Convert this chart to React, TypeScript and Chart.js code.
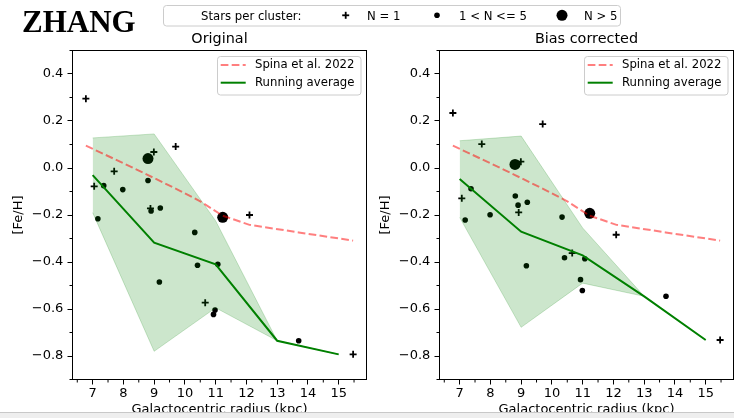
import React, { useEffect, useRef } from "react";
import { Chart, registerables } from "chart.js";

Chart.register(...registerables);

// Radial metallicity gradient of open clusters, two calibrations side by side.

const FONT = "DejaVu Sans";

// Running-average bins (kpc) and their mean / ±1σ envelope
const RADIUS_BINS = [7, 9, 11, 13, 15];
const ORIG_AVG = [-0.03, -0.318, -0.41, -0.735, -0.793];
const ORIG_UPPER = [0.128, 0.145, -0.225, -0.735, -0.793];
const ORIG_LOWER = [-0.19, -0.78, -0.595, -0.735, -0.793];
const CORR_AVG = [-0.047, -0.271, -0.372, -0.546, -0.732];
const CORR_UPPER = [0.116, 0.136, -0.255, -0.546, -0.732];
const CORR_LOWER = [-0.21, -0.678, -0.49, -0.546, -0.732];

// Spina et al. 2022 gradient evaluated at the cluster radii
const SPINA_R = [6.78, 7.89, 8.8, 9.84, 10.5, 11.23, 12.1, 13.7, 15.47];
const SPINA_FEH = [0.095, 0.027, -0.03, -0.097, -0.142, -0.203, -0.242, -0.274, -0.309];

// Original abundances
const ORIG_SINGLE_R = [6.78, 7.05, 7.7, 8.88, 8.99, 9.7, 10.66, 12.1, 15.47];
const ORIG_SINGLE_FEH = [0.295, -0.078, -0.014, -0.172, 0.068, 0.091, -0.573, -0.2, -0.793];
const ORIG_FEW_R = [7.17, 7.36, 7.98, 8.8, 8.9, 9.2, 9.17, 10.32, 10.41, 11.07, 10.98, 10.93, 13.7];
const ORIG_FEW_FEH = [-0.216, -0.075, -0.092, -0.053, -0.183, -0.17, -0.485, -0.274, -0.414, -0.41, -0.604, -0.623, -0.735];
const ORIG_MANY_R = [8.8, 11.23];
const ORIG_MANY_FEH = [0.04, -0.21];

// Bias-corrected abundances
const CORR_SINGLE_R = [6.78, 7.07, 7.72, 8.92, 8.99, 9.7, 10.66, 12.09, 15.47];
const CORR_SINGLE_FEH = [0.234, -0.129, 0.102, -0.189, 0.027, 0.187, -0.362, -0.284, -0.732];
const CORR_FEW_R = [7.18, 7.37, 7.99, 8.81, 8.9, 9.2, 9.17, 10.33, 10.41, 11.07, 10.93, 10.99, 13.71];
const CORR_FEW_FEH = [-0.221, -0.088, -0.199, -0.119, -0.158, -0.146, -0.416, -0.209, -0.382, -0.386, -0.475, -0.521, -0.546];
const CORR_MANY_R = [8.8, 11.23];
const CORR_MANY_FEH = [0.015, -0.193];

const X_TICKS = [7, 8, 9, 10, 11, 12, 13, 14, 15];
const X_MINOR = [6.5, 7.5, 8.5, 9.5, 10.5, 11.5, 12.5, 13.5, 14.5, 15.5];
const Y_TICKS = [-0.8, -0.6, -0.4, -0.2, 0, 0.2, 0.4];
const Y_MINOR = [-0.9, -0.7, -0.5, -0.3, -0.1, 0.1, 0.3, 0.5];

const SPINA_COLOR = "rgba(255,0,0,0.5)";
const AVG_COLOR = "#008000";
const SPINA_DASH = [7.7, 3.3];

const pts = (xs: number[], ys: number[]) => xs.map((x, i) => ({ x, y: ys[i] }));

type PanelProps = {
  title: string;
  left: number;
  single: [number[], number[]];
  few: [number[], number[]];
  many: [number[], number[]];
  avg: number[];
  upper: number[];
  lower: number[];
};

// Frame, minor ticks, panel title and in-axes legend
const decorPlugin = (title: string) => ({
  id: "decor",
  afterDatasetsDraw(chart: any) {
    const { ctx, chartArea: a, scales } = chart;
    ctx.save();
    // legend box
    const bx = 217.5, by = 56.5, bw = 143.5, bh = 38.5, r = 3;
    ctx.beginPath();
    ctx.moveTo(bx + r, by);
    ctx.lineTo(bx + bw - r, by);
    ctx.arcTo(bx + bw, by, bx + bw, by + r, r);
    ctx.lineTo(bx + bw, by + bh - r);
    ctx.arcTo(bx + bw, by + bh, bx + bw - r, by + bh, r);
    ctx.lineTo(bx + r, by + bh);
    ctx.arcTo(bx, by + bh, bx, by + bh - r, r);
    ctx.lineTo(bx, by + r);
    ctx.arcTo(bx, by, bx + r, by, r);
    ctx.closePath();
    ctx.fillStyle = "rgba(255,255,255,0.8)";
    ctx.fill();
    ctx.strokeStyle = "#cccccc";
    ctx.lineWidth = 1;
    ctx.stroke();

    ctx.lineWidth = 2;
    ctx.strokeStyle = SPINA_COLOR;
    ctx.setLineDash(SPINA_DASH);
    ctx.beginPath();
    ctx.moveTo(220.7, 65);
    ctx.lineTo(245.7, 65);
    ctx.stroke();
    ctx.setLineDash([]);
    ctx.strokeStyle = AVG_COLOR;
    ctx.beginPath();
    ctx.moveTo(220.7, 82.7);
    ctx.lineTo(245.7, 82.7);
    ctx.stroke();

    ctx.fillStyle = "#000";
    ctx.font = `11.7px "${FONT}"`;
    ctx.textAlign = "left";
    ctx.textBaseline = "middle";
    ctx.fillText("Spina et al. 2022", 255, 65);
    ctx.fillText("Running average", 255, 82.7);
    ctx.restore();
  },
  afterDraw(chart: any) {
    const { ctx, chartArea: a, scales } = chart;
    ctx.save();
    ctx.strokeStyle = "#000";
    ctx.lineWidth = 1;
    ctx.strokeRect(a.left, a.top, a.right - a.left, a.bottom - a.top);
    ctx.beginPath();
    for (const v of X_MINOR) {
      const p = scales.x.getPixelForValue(v);
      ctx.moveTo(p, a.bottom);
      ctx.lineTo(p, a.bottom + 3);
    }
    for (const v of Y_MINOR) {
      const p = scales.y.getPixelForValue(v);
      ctx.moveTo(a.left, p);
      ctx.lineTo(a.left - 3, p);
    }
    ctx.stroke();
    ctx.fillStyle = "#000";
    ctx.font = `14.4px "${FONT}"`;
    ctx.textAlign = "center";
    ctx.textBaseline = "alphabetic";
    ctx.fillText(title, (a.left + a.right) / 2, 43.3);
    ctx.restore();
  },
});

function Panel({ title, left, single, few, many, avg, upper, lower }: PanelProps) {
  const ref = useRef<HTMLCanvasElement | null>(null);
  useEffect(() => {
    if (!ref.current) return;
    const chart = new Chart(ref.current, {
      type: "scatter",
      data: {
        datasets: [
          {
            type: "line",
            label: "Spina et al. 2022",
            data: pts(SPINA_R, SPINA_FEH),
            borderColor: SPINA_COLOR,
            borderWidth: 2,
            borderDash: SPINA_DASH,
            pointRadius: 0,
            fill: false,
            tension: 0,
          },
          {
            type: "line",
            label: "Running average",
            data: pts(RADIUS_BINS, avg),
            borderColor: AVG_COLOR,
            borderWidth: 2,
            pointRadius: 0,
            fill: false,
            tension: 0,
          },
          {
            type: "line",
            label: "upper",
            data: pts(RADIUS_BINS, upper),
            borderColor: "rgba(0,128,0,0.2)",
            backgroundColor: "rgba(0,128,0,0.2)",
            borderWidth: 1,
            pointRadius: 0,
            fill: "+1",
            tension: 0,
          },
          {
            type: "line",
            label: "lower",
            data: pts(RADIUS_BINS, lower),
            borderColor: "rgba(0,128,0,0.2)",
            borderWidth: 1,
            pointRadius: 0,
            fill: false,
            tension: 0,
          },
          {
            label: "N = 1",
            data: pts(single[0], single[1]),
            pointStyle: "cross",
            pointRadius: 3.5,
            borderColor: "#000",
            borderWidth: 1.8,
          },
          {
            label: "1 < N <= 5",
            data: pts(few[0], few[1]),
            pointStyle: "circle",
            pointRadius: 2.8,
            backgroundColor: "#000",
            borderColor: "#000",
            borderWidth: 0,
          },
          {
            label: "N > 5",
            data: pts(many[0], many[1]),
            pointStyle: "circle",
            pointRadius: 5.5,
            backgroundColor: "#000",
            borderColor: "#000",
            borderWidth: 0,
          },
        ],
      } as any,
      options: {
        animation: false,
        responsive: false,
        devicePixelRatio: 1,
        events: [],
        layout: { padding: { top: 50.5, right: 0.5, bottom: 0, left: 0 }, autoPadding: false },
        plugins: { legend: { display: false }, tooltip: { enabled: false }, title: { display: false } },
        scales: {
          x: {
            type: "linear",
            min: 6.345,
            max: 15.905,
            afterBuildTicks: (s: any) => {
              s.ticks = X_TICKS.map((v) => ({ value: v }));
            },
            afterFit: (s: any) => {
              s.height = 38.5;
            },
            grid: { drawOnChartArea: false, drawTicks: true, tickLength: 5, tickColor: "#000", tickWidth: 1 },
            border: { display: false },
            ticks: {
              color: "#000",
              font: { family: FONT, size: 13 },
              padding: 1.2,
              maxRotation: 0,
              autoSkip: false,
              callback: (v: any) => String(v),
            },
            title: {
              display: true,
              text: "Galactocentric radius (kpc)",
              color: "#000",
              font: { family: FONT, size: 13 },
              padding: { top: 0, bottom: 0.2 },
            },
          },
          y: {
            type: "linear",
            min: -0.9,
            max: 0.5,
            afterBuildTicks: (s: any) => {
              s.ticks = Y_TICKS.map((v) => ({ value: v }));
            },
            afterFit: (s: any) => {
              s.width = 72.5;
            },
            grid: { drawOnChartArea: false, drawTicks: true, tickLength: 5, tickColor: "#000", tickWidth: 1 },
            border: { display: false },
            ticks: {
              color: "#000",
              font: { family: FONT, size: 13 },
              padding: 4.2,
              autoSkip: false,
              callback: (v: any) => Number(v).toFixed(1).replace("-", "\u2212"),
            },
            title: {
              display: true,
              text: "[Fe/H]",
              color: "#000",
              font: { family: FONT, size: 13 },
              padding: { top: 11.2, bottom: 0 },
            },
          },
        },
      } as any,
      plugins: [decorPlugin(title)],
    });
    return () => chart.destroy();
  }, []);
  return (
    <div style={{ position: "absolute", left, top: 0, width: 367, height: 418 }}>
      <canvas ref={ref} width={367} height={418} style={{ width: 367, height: 418, display: "block" }} />
    </div>
  );
}

function Header() {
  const txt = { fontFamily: FONT, fontSize: 11.7, fill: "#000" } as const;
  return (
    <svg
      width={734}
      height={418}
      style={{ position: "absolute", left: 0, top: 0, pointerEvents: "none" }}
    >
      <text x={22} y={31.5} style={{ fontFamily: "Liberation Serif", fontWeight: "bold", fontSize: 31 }} fill="#000">
        ZHANG
      </text>
      <rect x={163.5} y={5.5} width={457} height={20.5} rx={3} fill="#fff" stroke="#cccccc" strokeWidth={1} />
      <text x={201} y={20} style={txt}>Stars per cluster:</text>
      <line x1={342.2} y1={15.3} x2={349.2} y2={15.3} stroke="#000" strokeWidth={1.8} />
      <line x1={345.7} y1={11.8} x2={345.7} y2={18.8} stroke="#000" strokeWidth={1.8} />
      <text x={367} y={20} style={txt}>N = 1</text>
      <circle cx={437} cy={15.3} r={2.8} fill="#000" />
      <text x={459} y={20} style={txt}>1 &lt; N &lt;= 5</text>
      <circle cx={562} cy={15.3} r={5.5} fill="#000" />
      <text x={584} y={20} style={txt}>N &gt; 5</text>
      <rect x={0} y={412.5} width={734} height={6} fill="#eeeeee" />
      <line x1={0} y1={412.5} x2={734} y2={412.5} stroke="#c8c8c8" strokeWidth={1} />
    </svg>
  );
}

export default function App() {
  return (
    <div style={{ position: "absolute", left: 0, top: 0, width: 734, height: 418, background: "#fff", overflow: "hidden" }}>
      <Panel
        title="Original"
        left={0}
        single={[ORIG_SINGLE_R, ORIG_SINGLE_FEH]}
        few={[ORIG_FEW_R, ORIG_FEW_FEH]}
        many={[ORIG_MANY_R, ORIG_MANY_FEH]}
        avg={ORIG_AVG}
        upper={ORIG_UPPER}
        lower={ORIG_LOWER}
      />
      <Panel
        title="Bias corrected"
        left={367}
        single={[CORR_SINGLE_R, CORR_SINGLE_FEH]}
        few={[CORR_FEW_R, CORR_FEW_FEH]}
        many={[CORR_MANY_R, CORR_MANY_FEH]}
        avg={CORR_AVG}
        upper={CORR_UPPER}
        lower={CORR_LOWER}
      />
      <Header />
    </div>
  );
}
